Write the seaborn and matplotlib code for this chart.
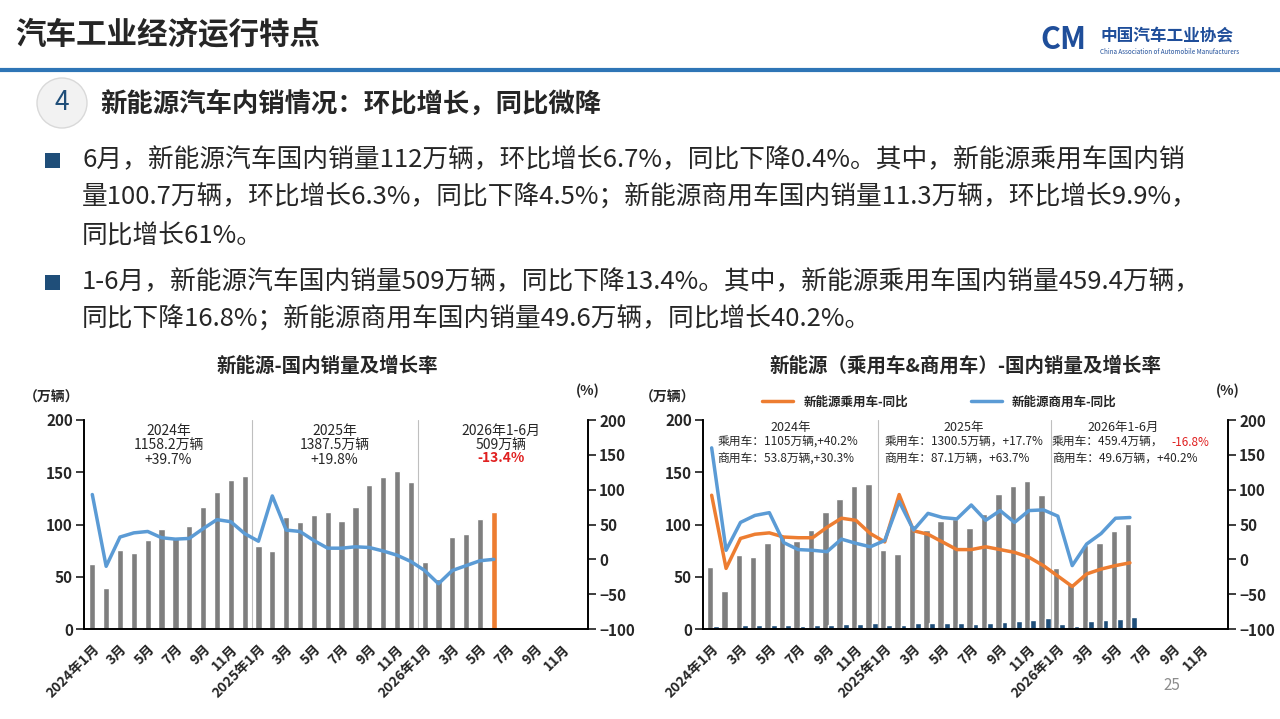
#!/usr/bin/env python
import numpy as np
import pandas as pd
import matplotlib
matplotlib.use('Agg')
import matplotlib.pyplot as plt
from matplotlib.patches import Ellipse, Rectangle
import seaborn as sns

sns.set_theme(style='white')
plt.rcParams['font.family'] = ['Noto Sans CJK SC', 'DejaVu Sans']

# ---- data ----
months = list(range(36))  # 2024-01 .. 2026-12
tick_labels = ['2024年1月', '3月', '5月', '7月', '9月', '11月',
               '2025年1月', '3月', '5月', '7月', '9月', '11月',
               '2026年1月', '3月', '5月', '7月', '9月', '11月']

total_sales = [62, 39, 76, 73, 85, 96, 88, 99, 117, 131, 143, 146,
               79, 75, 107, 102, 109, 112, 103, 117, 138, 145, 151, 141,
               64, 48, 88, 91, 105, 112]
total_yoy = [93, -10, 32, 38, 40, 31, 29, 30, 44, 57, 54, 37,
             26, 91, 42, 40, 27, 16, 16, 18, 17, 12, 6, -3,
             -16, -35, -16, -9, -2, 0]

pv_sales = [59, 36, 71, 69, 82, 90, 84, 95, 112, 124, 137, 139,
            76, 72, 100, 95, 103, 105, 97, 110, 129, 137, 142, 128,
            58, 44, 80, 82, 94, 100.7]
cv_sales = [2.5, 1.5, 4, 3.5, 3.5, 3.5, 3, 3.5, 4, 4.5, 5, 6,
            3.5, 3.5, 6, 6, 6, 6, 5, 6, 7, 7.5, 9, 11,
            5, 3, 8, 9, 10, 11.3]
pv_yoy = [92, -13, 30, 36, 38, 32, 31, 31, 46, 59, 56, 37,
          25, 93, 41, 36, 25, 14, 14, 18, 14, 10, 3, -9,
          -24, -39, -21, -14, -9, -5]
cv_yoy = [160, 13, 53, 63, 67, 24, 14, 13, 11, 29, 23, 18,
          27, 83, 42, 66, 60, 58, 78, 56, 70, 53, 70, 71,
          62, -9, 22, 37, 59, 60]

GREY = '#7f7f7f'
BLUE = '#5b9bd5'
ORANGE = '#ed7d31'
NAVY = '#1f4e79'

fig = plt.figure(figsize=(12.8, 7.19), dpi=100)


def fx(px):
    return px / 1280


def fy(py):
    return 1 - py / 719


# ---- slide header ----
fig.text(fx(15), fy(35), '汽车工业经济运行特点', fontsize=22, fontweight='bold', va='center')
fig.add_artist(plt.Line2D([0, 1], [fy(70), fy(70)], color='#2e75b6', lw=3))
fig.text(fx(1100), fy(36), '中国汽车工业协会', fontsize=12, fontweight='bold', color='#1f4e9a', va='center')
fig.text(fx(1100), fy(52), 'China Association of Automobile Manufacturers', fontsize=4.5, color='#1f4e9a', va='center')
fig.text(fx(1040), fy(40), 'CM', fontsize=22, fontweight='bold', color='#1f4e9a', va='center', style='italic')

fig.add_artist(Ellipse((fx(62), fy(103)), fx(50), 50 / 719, transform=fig.transFigure,
                       facecolor='#f2f2f2', edgecolor='#d9d9d9', lw=1))
fig.text(fx(62), fy(103), '4', fontsize=19, ha='center', va='center', color='#1f4e79')
fig.text(fx(100), fy(105), '新能源汽车内销情况：环比增长，同比微降', fontsize=19,
         fontweight='bold', va='center')

lines = [(160, True, '6月，新能源汽车国内销量112万辆，环比增长6.7%，同比下降0.4%。其中，新能源乘用车国内销'),
         (198, False, '量100.7万辆，环比增长6.3%，同比下降4.5%；新能源商用车国内销量11.3万辆，环比增长9.9%，'),
         (237, False, '同比增长61%。'),
         (282, True, '1-6月，新能源汽车国内销量509万辆，同比下降13.4%。其中，新能源乘用车国内销量459.4万辆，'),
         (320, False, '同比下降16.8%；新能源商用车国内销量49.6万辆，同比增长40.2%。')]
for y, bullet, s in lines:
    if bullet:
        fig.add_artist(Rectangle((fx(45), fy(y + 8)), fx(15), 15 / 719, transform=fig.transFigure,
                                 facecolor='#1f4e79', edgecolor='none'))
    fig.text(fx(82), fy(y), s, fontsize=18.5, va='center', color='#262626')


def setup_axes(ax, ax2):
    ax.set_xlim(-0.6, 35.8)
    ax.set_ylim(0, 200)
    ax2.set_ylim(-100, 200)
    ax.set_yticks([0, 50, 100, 150, 200])
    ax2.set_yticks([-100, -50, 0, 50, 100, 150, 200])
    ax.set_xticks(range(0, 36, 2))
    ax.set_xticklabels(tick_labels, rotation=45, ha='right', rotation_mode='anchor',
                       fontsize=10, fontweight='bold')
    ax.tick_params(axis='y', labelsize=11, pad=2)
    ax2.tick_params(axis='y', labelsize=11, pad=2)
    for t in ax.get_yticklabels() + ax2.get_yticklabels():
        t.set_fontweight('bold')
    ax.set_xlabel('')
    ax.set_ylabel('')
    ax2.set_ylabel('')
    ax2.set_xlabel('')
    for a in (ax, ax2):
        a.grid(False)
        a.spines['top'].set_visible(False)
        for s in ('left', 'right', 'bottom'):
            a.spines[s].set_color('black')
            a.spines[s].set_linewidth(1.2)
    for xv in (11.5, 23.5):
        ax.axvline(xv, color='#bfbfbf', lw=0.8)
    ax.text(-0.12, 1.09, '（万辆）', transform=ax.transAxes, fontsize=10, fontweight='bold')
    ax.text(1.0, 1.12, '(%)', transform=ax.transAxes, fontsize=10, fontweight='bold', ha='center')


# ---- left chart ----
ax = fig.add_axes([fx(84), fy(629), fx(588 - 84), (629 - 420) / 719])
df = pd.DataFrame({'m': months[:30], 'v': total_sales, 'yoy': total_yoy})
colors = [GREY] * 29 + [ORANGE]
sns.barplot(data=df, x='m', y='v', native_scale=True, width=0.45,
            hue='m', palette=colors, legend=False, ax=ax, saturation=1)
ax2 = ax.twinx()
sns.lineplot(data=df, x='m', y='yoy', color=BLUE, lw=2.5, ax=ax2)
setup_axes(ax, ax2)
fig.text(fx(327), fy(366), '新能源-国内销量及增长率', fontsize=14, fontweight='bold', ha='center', va='center')
for x, s1, s2 in [(5.5, '2024年\n1158.2万辆\n+39.7%', None),
                  (17.5, '2025年\n1387.5万辆\n+19.8%', None),
                  (29.5, '2026年1-6月\n509万辆', '-13.4%')]:
    ax.text(x, 196, s1, ha='center', va='top', fontsize=10, linespacing=1.05)
    if s2:
        ax.text(x, 170, s2, ha='center', va='top', fontsize=10, color='#e02020', fontweight='bold')

# ---- right chart ----
axr = fig.add_axes([fx(703), fy(629), fx(1228 - 703), (629 - 420) / 719])
dfr = pd.DataFrame({'m': months[:30], 'pv': pv_sales, 'cv': cv_sales, 'pv_yoy': pv_yoy, 'cv_yoy': cv_yoy})
sns.barplot(x=dfr['m'] - 0.12, y=dfr['pv'], native_scale=True, width=0.45, color=GREY,
            saturation=1, ax=axr)
sns.barplot(x=dfr['m'] + 0.3, y=dfr['cv'], native_scale=True, width=0.4, color=NAVY,
            saturation=1, ax=axr)
axr2 = axr.twinx()
sns.lineplot(data=dfr, x='m', y='pv_yoy', color=ORANGE, lw=2.5, ax=axr2, label='新能源乘用车-同比')
sns.lineplot(data=dfr, x='m', y='cv_yoy', color=BLUE, lw=2.5, ax=axr2, label='新能源商用车-同比')
setup_axes(axr, axr2)
axr2.legend(loc='lower center', bbox_to_anchor=(0.45, 1.0), ncol=2, frameon=False,
            columnspacing=5, handlelength=2.5, prop={'weight': 'bold', 'size': 9})
fig.text(fx(965), fy(366), '新能源（乘用车&商用车）-国内销量及增长率', fontsize=14,
         fontweight='bold', ha='center', va='center')
axr.text(5.5, 199, '2024年', ha='center', va='top', fontsize=9)
axr.text(17.5, 199, '2025年', ha='center', va='top', fontsize=9)
axr.text(28.5, 199, '2026年1-6月', ha='center', va='top', fontsize=9)
for x, l1, l2 in [(0.4, '乘用车：1105万辆,+40.2%', '商用车：53.8万辆,+30.3%'),
                  (12.0, '乘用车：1300.5万辆，+17.7%', '商用车：87.1万辆，+63.7%'),
                  (23.6, '乘用车：459.4万辆，', '商用车：49.6万辆，+40.2%')]:
    axr.text(x, 185, l1, va='top', fontsize=8.5)
    axr.text(x, 170, l2, va='top', fontsize=8.5)
axr.text(31.9, 185, '-16.8%', va='top', fontsize=8.5, color='#e02020')

fig.text(fx(1172), fy(686), '25', fontsize=11, color='#8c8c8c', ha='center', va='center')

fig.savefig('out.png', dpi=100)
